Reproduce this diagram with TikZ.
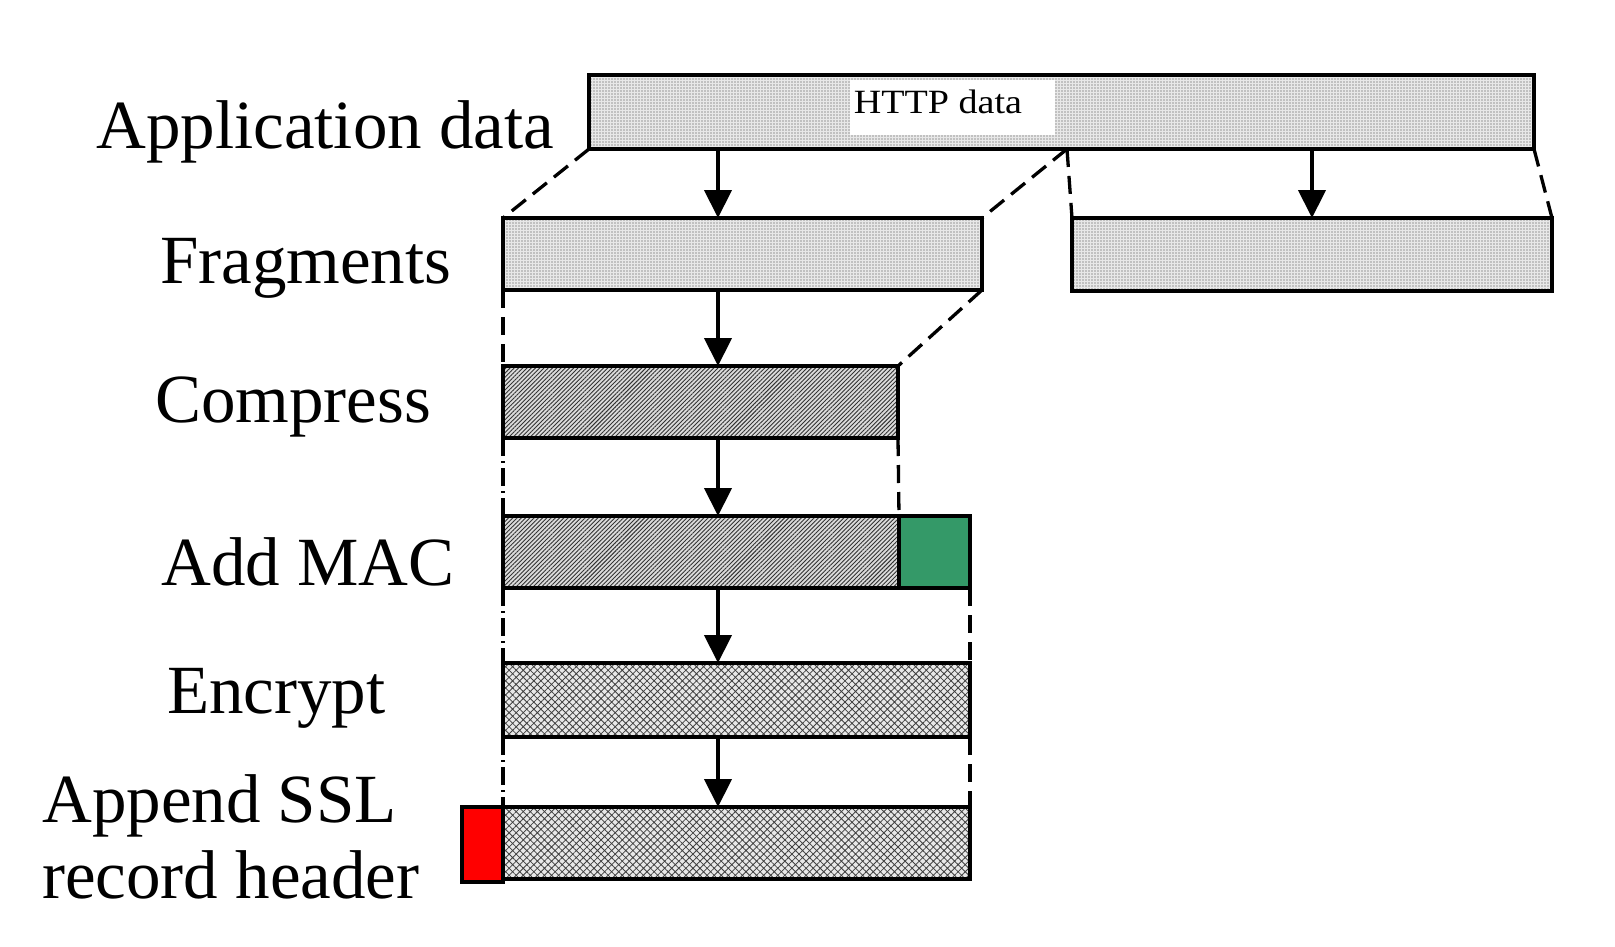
\documentclass[tikz,border=0pt]{standalone}
\usepackage{fontspec}
\setmainfont{Liberation Serif}
\usetikzlibrary{patterns.meta,arrows.meta,calc}
\definecolor{macgreen}{RGB}{52,153,104}
\definecolor{hdrred}{RGB}{255,0,0}
\begin{document}
\begin{tikzpicture}[x=1pt,y=-1pt,
  box/.style={draw=black,line width=3.4pt,inner sep=0pt,outer sep=0pt,anchor=north west},
  dotsbox/.style={box,preaction={fill=gray!18},pattern={Dots[distance=3pt,radius=0.65pt]},pattern color=black!75},
  linesbox/.style={box,preaction={fill=gray!28},pattern={Lines[angle=45,distance=3pt,line width=0.9pt]},pattern color=black!80},
  hatchbox/.style={box,preaction={fill=gray!18},pattern={Hatch[angle=45,distance=5pt,line width=0.8pt]},pattern color=black!75},
  lbl/.style={anchor=base west,inner sep=0pt,font=\fontsize{69}{76}\selectfont},
  arr/.style={line width=4.2pt,-{Triangle[width=27pt,length=28pt]}},
  dsh/.style={line width=3.3pt,dash pattern=on 18pt off 9pt},
  dshdot/.style={line width=3.3pt,dash pattern=on 18pt off 5pt on 2pt off 5pt},
]
\useasboundingbox (0,0) rectangle (1615,946);

% boxes
\node[dotsbox,minimum width=945pt,minimum height=74pt] (app) at (589,75) {};
\node[fill=white,inner sep=0pt,outer sep=0pt,minimum width=205pt,minimum height=55pt,anchor=north west] (httpbg) at (850,80) {};
\node[anchor=base,inner sep=0pt,font=\fontsize{34}{40}\selectfont] (http) at (938,113) {\scalebox{1.12}[1]{HTTP data}};

\node[dotsbox,minimum width=479pt,minimum height=72pt] (frag1) at (503,218) {};
\node[dotsbox,minimum width=480pt,minimum height=73pt] (frag2) at (1072,218) {};
\node[linesbox,minimum width=395pt,minimum height=72pt] (comp) at (503,366) {};
\node[linesbox,minimum width=396pt,minimum height=72pt] (mac) at (503,516) {};
\node[box,fill=macgreen,minimum width=71pt,minimum height=72pt] (macg) at (mac.north east) {};
\node[hatchbox,minimum width=467pt,minimum height=74pt] (enc) at (503,663) {};
\node[hatchbox,minimum width=467pt,minimum height=72pt] (hdr) at (503,807) {};
\node[box,fill=hdrred,anchor=north east,minimum width=41pt,minimum height=75pt] (red) at (hdr.north west) {};

% labels
\node[lbl] (l1) at (96,148) {Application data};
\node[lbl] (l2) at (160,283) {Fragments};
\node[lbl] (l3) at (155,422) {Compress};
\node[lbl] (l4) at (161,585) {Add MAC};
\node[lbl] (l5) at (167,713) {Encrypt};
\node[lbl] (l6) at (42,822) {Append SSL};
\node[lbl] (l7) at (42,898) {record header};

% helper coordinates
\coordinate (axis) at (718,0);
\coordinate (split) at (1067,149);

% arrows
\draw[arr] (app.south -| axis) -- (frag1.north -| axis);
\draw[arr] (app.south -| frag2.north) -- (frag2.north);
\draw[arr] (frag1.south -| axis) -- (comp.north -| axis);
\draw[arr] (comp.south -| axis) -- (mac.north -| axis);
\draw[arr] (mac.south -| axis) -- (enc.north -| axis);
\draw[arr] (enc.south -| axis) -- (hdr.north -| axis);

% dashed guides
\draw[dsh] (app.south west) -- (frag1.north west);
\draw[dsh] (split) -- (frag1.north east);
\draw[dsh] (split) -- (frag2.north west);
\draw[dsh] (app.south east) -- (frag2.north east);
\draw[dsh] (frag1.south west) -- (comp.north west);
\draw[dsh] (frag1.south east) -- (comp.north east);
\draw[dshdot] (comp.south west) -- (mac.north west);
\draw[dsh] (comp.south east) -- (mac.north east);
\draw[dshdot] (mac.south west) -- (enc.north west);
\draw[dsh] (macg.south east) -- (enc.north east);
\draw[dshdot] (enc.south west) -- (hdr.north west);
\draw[dsh] (enc.south east) -- (hdr.north east);
\end{tikzpicture}
\end{document}
